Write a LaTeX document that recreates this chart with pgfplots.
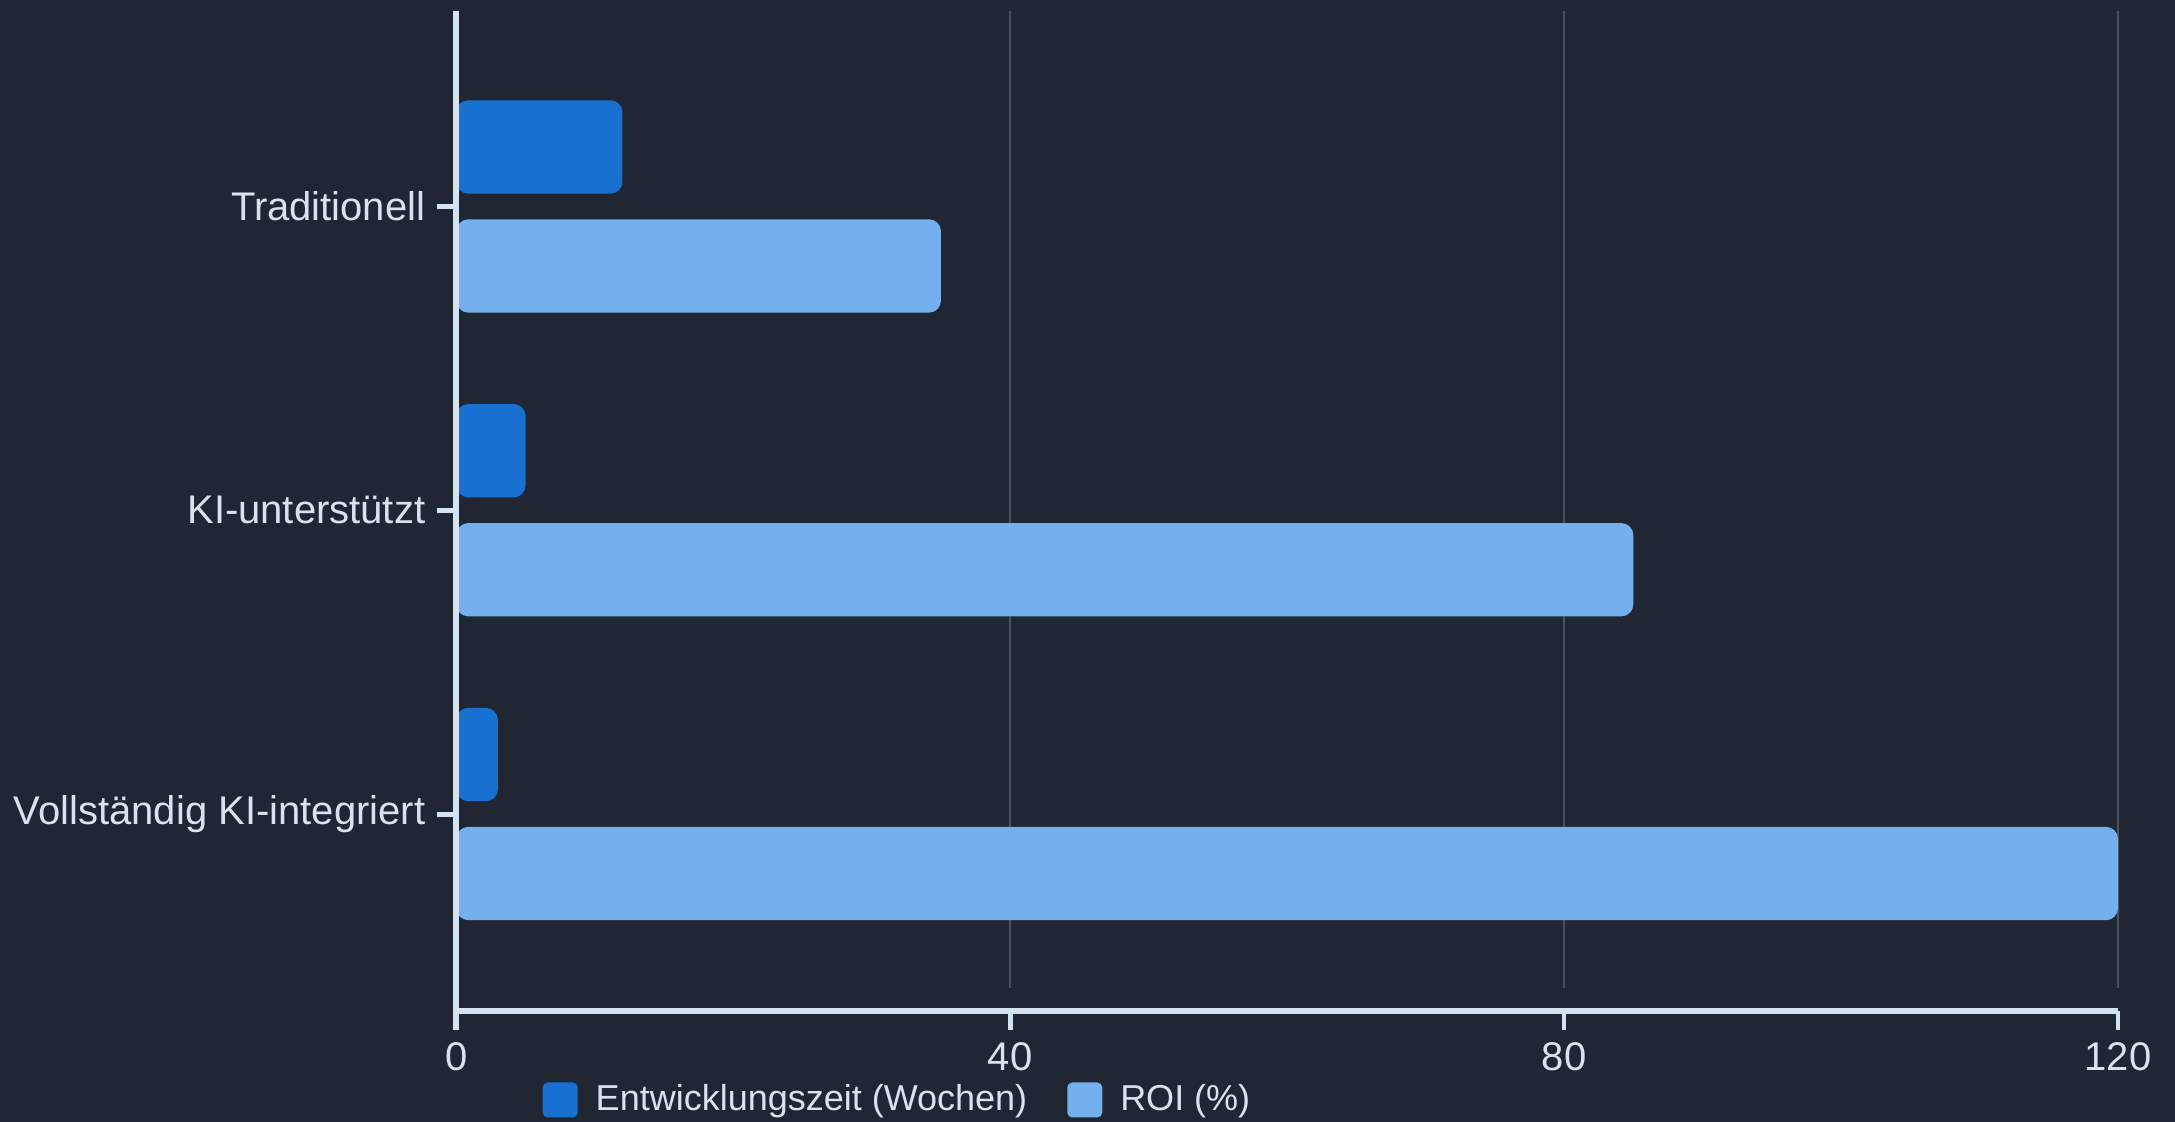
\documentclass[border=0pt]{standalone}
\usepackage{fontspec}
\setmainfont{Liberation Sans}
\usepackage{pgfplots}
\pgfplotsset{compat=1.18}

\definecolor{bg}{HTML}{212633}
\definecolor{devtime}{HTML}{1870D1}
\definecolor{roi}{HTML}{74B0EE}
\definecolor{gridc}{HTML}{4A505E}
\definecolor{axisc}{HTML}{D4E3F0}
\definecolor{txtc}{HTML}{D9E3EE}

\begin{document}
\begin{tikzpicture}
% page background, sized to the reference
\fill[bg] (-136.9pt,-40.3pt) rectangle (515.6pt,296.3pt);
\begin{axis}[
	at={(0,0)}, anchor=south west,
	scale only axis, width=498.5pt, height=293pt,
	xbar, bar width=28pt,
	xmin=0, xmax=120, ymin=-0.571, ymax=2.644,
	axis x line*=bottom, axis y line*=left,
	axis x line shift=7pt,
	axis line style={axisc, line width=1.7pt},
	xtick={0,40,80,120},
	ytick={0,1,2},
	yticklabels={Vollständig KI-integriert, KI-unterstützt, Traditionell},
	tick align=outside, major tick length=5.8pt,
	tick style={axisc, line width=1.4pt},
	xmajorgrids,
	major grid style={gridc, line width=0.55pt},
	tick label style={text=txtc, font=\fontsize{12}{14}\selectfont},
	/pgf/number format/assume math mode=true,
	legend columns=2,
	legend style={at={(0.0516,-0.115)}, anchor=west, draw=none, fill=none,
		text=txtc, font=\fontsize{10.8}{12}\selectfont, inner sep=0pt,
		nodes={inner sep=0pt},
		/tikz/every odd column/.append style={column sep=5.4pt},
		/tikz/every even column/.append style={column sep=12pt}},
	legend image code/.code={\fill[#1, rounded corners=1.5pt] (0pt,-5.25pt) rectangle (10.5pt,5.25pt);},
	after end axis/.code={
		\draw[axisc, line width=1.7pt] (rel axis cs:0,1) -- ([yshift=-12.8pt]rel axis cs:0,0);
	},
]
\addplot[fill=devtime, draw=none, rounded corners=3.6pt, bar shift=17.9pt]
	coordinates {(12,2) (5,1) (3,0)};
\addplot[fill=roi, draw=none, rounded corners=3.6pt, bar shift=-17.8pt]
	coordinates {(35,2) (85,1) (120,0)};
\legend{Entwicklungszeit (Wochen), ROI (\%)}
\end{axis}
\end{tikzpicture}
\end{document}
